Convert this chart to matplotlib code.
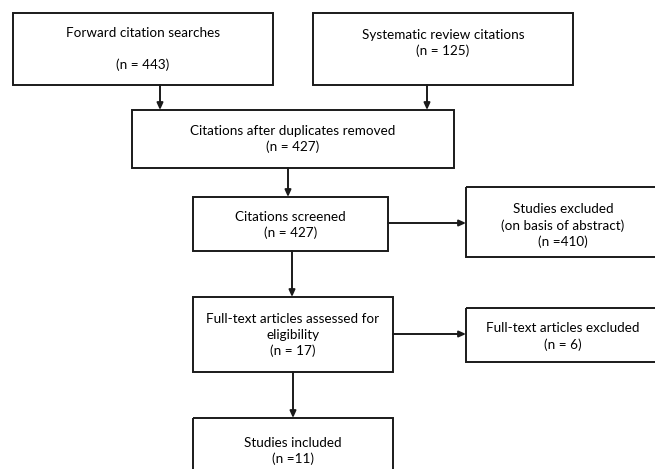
import matplotlib
matplotlib.use("Agg")
import matplotlib.pyplot as plt
from matplotlib.patches import Rectangle

# ---- data (box labels / counts) ----
stage_titles = [
    "Forward citation searches",
    "Systematic review citations",
    "Citations after duplicates removed",
    "Citations screened",
    "Studies excluded\n(on basis of abstract)",
    "Full-text articles assessed for\neligibility",
    "Full-text articles excluded",
    "Studies included",
]
stage_counts = ["(n = 443)", "(n = 125)", "(n = 427)", "(n = 427)",
                "(n =410)", "(n = 17)", "(n = 6)", "(n =11)"]
title_count_gap = [True, False, False, False, False, False, False, False]

# ---- layout (pixel coordinates: x0, y0, x1, y1, text-centre y) ----
boxes = [
    (13, 13, 273, 85, 49),
    (313, 13, 573, 85, 43),
    (132, 110, 454, 168, 139),
    (193, 197, 388, 251, 225),
    (466, 187, 660, 257, 225.5),
    (193, 297, 393, 372, 335),
    (466, 308, 660, 362, 336.5),
    (193, 418, 393, 480, 451),
]
arrows = [
    ((160, 85), (160, 110)),
    ((427, 85), (427, 110)),
    ((288, 168), (288, 197)),
    ((388, 223), (466, 223)),
    ((292, 251), (292, 297)),
    ((393, 334), (466, 334)),
    ((293, 372), (293, 418)),
]

W, H = 655, 469
fig = plt.figure(figsize=(W / 100, H / 100), dpi=100)
ax = fig.add_axes([0, 0, 1, 1])
ax.set_xlim(0, W)
ax.set_ylim(H, 0)
ax.axis("off")

font = dict(family=["Lato", "DejaVu Sans"], fontsize=9.7, color="black")

for (x0, y0, x1, y1, ty), title, cnt, gap in zip(boxes, stage_titles, stage_counts, title_count_gap):
    ax.add_patch(Rectangle((x0, y0), x1 - x0, y1 - y0, fill=False,
                           edgecolor="#1a1a1a", linewidth=1.4))
    txt = title + ("\n\n" if gap else "\n") + cnt
    ax.text((x0 + x1) / 2, ty, txt, ha="center", va="center",
            linespacing=1.35, **font)

for (sx, sy), (ex, ey) in arrows:
    ax.annotate("", xy=(ex, ey), xytext=(sx, sy),
                arrowprops=dict(arrowstyle="-|>,head_length=0.4,head_width=0.18",
                                color="#1a1a1a", lw=1.4, shrinkA=0, shrinkB=0))

fig.savefig("out.png", dpi=100)
